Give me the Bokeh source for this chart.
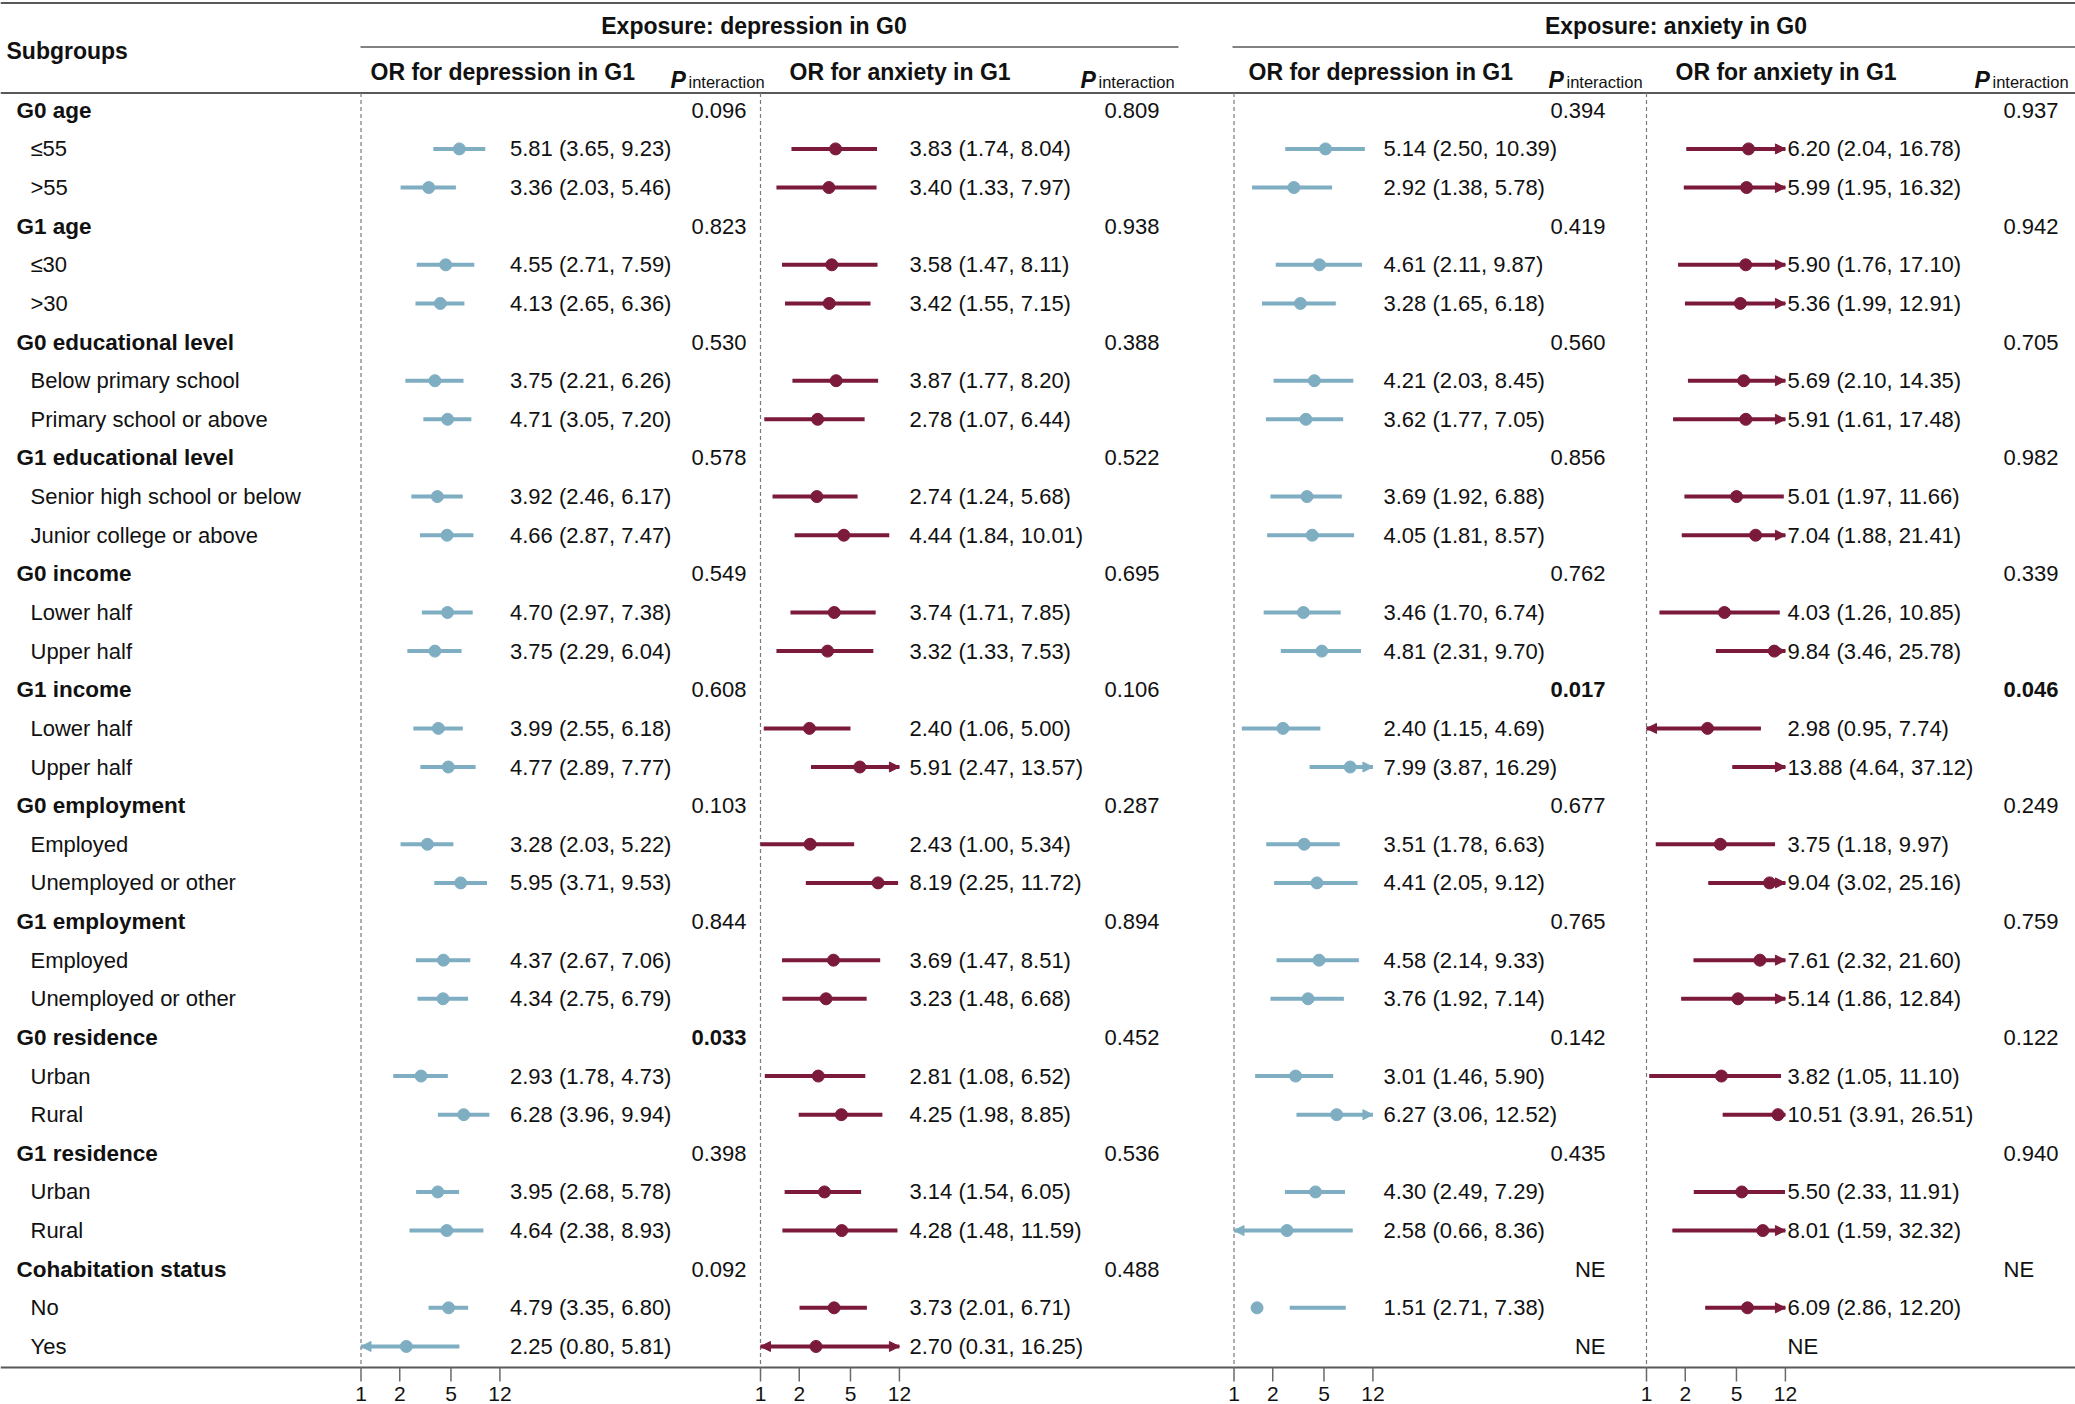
import math
from bokeh.plotting import figure
from bokeh.models import Range1d, LogScale, ColumnDataSource, Arrow, NormalHead
from bokeh.embed import file_html
from bokeh.resources import INLINE
from bokeh.core.properties import value

# ---------------------------------------------------------------- data
group_names = ["G0 age", "G1 age", "G0 educational level", "G1 educational level",
               "G0 income", "G1 income", "G0 employment", "G1 employment",
               "G0 residence", "G1 residence", "Cohabitation status"]
subgroup_names = ["≤55", ">55", "≤30", ">30",
                  "Below primary school", "Primary school or above",
                  "Senior high school or below", "Junior college or above",
                  "Lower half", "Upper half", "Lower half", "Upper half",
                  "Employed", "Unemployed or other", "Employed", "Unemployed or other",
                  "Urban", "Rural", "Urban", "Rural", "No", "Yes"]

# exposure: depression in G0 -> depression in G1
dd_or = [5.81, 3.36, 4.55, 4.13, 3.75, 4.71, 3.92, 4.66, 4.70, 3.75, 3.99,
         4.77, 3.28, 5.95, 4.37, 4.34, 2.93, 6.28, 3.95, 4.64, 4.79, 2.25]
dd_lo = [3.65, 2.03, 2.71, 2.65, 2.21, 3.05, 2.46, 2.87, 2.97, 2.29, 2.55,
         2.89, 2.03, 3.71, 2.67, 2.75, 1.78, 3.96, 2.68, 2.38, 3.35, 0.80]
dd_hi = [9.23, 5.46, 7.59, 6.36, 6.26, 7.20, 6.17, 7.47, 7.38, 6.04, 6.18,
         7.77, 5.22, 9.53, 7.06, 6.79, 4.73, 9.94, 5.78, 8.93, 6.80, 5.81]
dd_p = ["0.096", "0.823", "0.530", "0.578", "0.549", "0.608",
        "0.103", "0.844", "0.033", "0.398", "0.092"]

# exposure: depression in G0 -> anxiety in G1
da_or = [3.83, 3.40, 3.58, 3.42, 3.87, 2.78, 2.74, 4.44, 3.74, 3.32, 2.40,
         5.91, 2.43, 8.19, 3.69, 3.23, 2.81, 4.25, 3.14, 4.28, 3.73, 2.70]
da_lo = [1.74, 1.33, 1.47, 1.55, 1.77, 1.07, 1.24, 1.84, 1.71, 1.33, 1.06,
         2.47, 1.00, 2.25, 1.47, 1.48, 1.08, 1.98, 1.54, 1.48, 2.01, 0.31]
da_hi = [8.04, 7.97, 8.11, 7.15, 8.20, 6.44, 5.68, 10.01, 7.85, 7.53, 5.00,
         13.57, 5.34, 11.72, 8.51, 6.68, 6.52, 8.85, 6.05, 11.59, 6.71, 16.25]
da_p = ["0.809", "0.938", "0.388", "0.522", "0.695", "0.106",
        "0.287", "0.894", "0.452", "0.536", "0.488"]

# exposure: anxiety in G0 -> depression in G1 (None = not estimable)
ad_or = [5.14, 2.92, 4.61, 3.28, 4.21, 3.62, 3.69, 4.05, 3.46, 4.81, 2.40,
         7.99, 3.51, 4.41, 4.58, 3.76, 3.01, 6.27, 4.30, 2.58, 1.51, None]
ad_lo = [2.50, 1.38, 2.11, 1.65, 2.03, 1.77, 1.92, 1.81, 1.70, 2.31, 1.15,
         3.87, 1.78, 2.05, 2.14, 1.92, 1.46, 3.06, 2.49, 0.66, 2.71, None]
ad_hi = [10.39, 5.78, 9.87, 6.18, 8.45, 7.05, 6.88, 8.57, 6.74, 9.70, 4.69,
         16.29, 6.63, 9.12, 9.33, 7.14, 5.90, 12.52, 7.29, 8.36, 7.38, None]
ad_p = ["0.394", "0.419", "0.560", "0.856", "0.762", "0.017",
        "0.677", "0.765", "0.142", "0.435", "NE"]

# exposure: anxiety in G0 -> anxiety in G1
aa_or = [6.20, 5.99, 5.90, 5.36, 5.69, 5.91, 5.01, 7.04, 4.03, 9.84, 2.98,
         13.88, 3.75, 9.04, 7.61, 5.14, 3.82, 10.51, 5.50, 8.01, 6.09, None]
aa_lo = [2.04, 1.95, 1.76, 1.99, 2.10, 1.61, 1.97, 1.88, 1.26, 3.46, 0.95,
         4.64, 1.18, 3.02, 2.32, 1.86, 1.05, 3.91, 2.33, 1.59, 2.86, None]
aa_hi = [16.78, 16.32, 17.10, 12.91, 14.35, 17.48, 11.66, 21.41, 10.85, 25.78, 7.74,
         37.12, 9.97, 25.16, 21.60, 12.84, 11.10, 26.51, 11.91, 32.32, 12.20, None]
aa_p = ["0.937", "0.942", "0.705", "0.982", "0.339", "0.046",
        "0.249", "0.759", "0.122", "0.940", "NE"]

axis_ticks = [1, 2, 5, 12]
clip_lo, clip_hi = 1, 12

exposure_titles = ["Exposure: depression in G0", "Exposure: anxiety in G0"]

# ---------------------------------------------------------------- layout
W, H = 2075, 1404
ROW0, STEP = 109.8, 38.63      # pixel centre of first row, row pitch
K = 55.9                       # pixels per natural-log unit on each OR axis
FONT = "Liberation Sans"
BLUE, RED = "#7FAEC2", "#7B1A3A"
INK = "#111111"
RULE = "#595959"

Y_HEAD_LINE, Y_AXIS = 92.5, 1367.0

panels = [
    dict(name="f1", origin=360.5, or_x=509.5, p_x=746, color=BLUE,
         title="OR for depression in G1", title_x=370, P_x=670,
         orv=dd_or, lo=dd_lo, hi=dd_hi, pv=dd_p, ne_col="p", ne_head=("right", 746)),
    dict(name="f2", origin=760.0, or_x=909, p_x=1159, color=RED,
         title="OR for anxiety in G1", title_x=789, P_x=1080,
         orv=da_or, lo=da_lo, hi=da_hi, pv=da_p, ne_col="p", ne_head=("right", 1159)),
    dict(name="f3", origin=1233.5, or_x=1383, p_x=1605, color=BLUE,
         title="OR for depression in G1", title_x=1248, P_x=1548,
         orv=ad_or, lo=ad_lo, hi=ad_hi, pv=ad_p, ne_col="p", ne_head=("right", 1605)),
    dict(name="f4", origin=1646.0, or_x=1787, p_x=2058, color=RED,
         title="OR for anxiety in G1", title_x=1675, P_x=1974,
         orv=aa_or, lo=aa_lo, hi=aa_hi, pv=aa_p, ne_col="or", ne_head=("left", 2003)),
]

p = figure(width=W, height=H, title=None,
           x_range=Range1d(0, W),
           y_range=Range1d((H - ROW0) / STEP, -ROW0 / STEP),
           x_axis_type=None, y_axis_type=None,
           output_backend="svg", toolbar_location=None, min_border=0)
p.outline_line_color = None
p.background_fill_color = "white"
p.border_fill_color = "white"

p.extra_y_ranges = {"px": Range1d(H, 0)}
p.extra_x_ranges = {pn["name"]: Range1d(math.exp(-pn["origin"] / K),
                                        math.exp((W - pn["origin"]) / K)) for pn in panels}
p.extra_x_scales = {pn["name"]: LogScale() for pn in panels}


def txt(x, y, s, size="22px", style="normal", align="left", baseline="middle",
        xr="default", yr="default", color=INK):
    p.text(x=x, y=y, text=s, text_font=value(FONT), text_font_size=value(size),
           text_font_style=style, text_align=align, text_baseline=baseline,
           text_color=color, x_range_name=xr, y_range_name=yr)


group_rows = [3 * g for g in range(len(group_names))]
sub_rows = [3 * g + k for g in range(len(group_names)) for k in (1, 2)]

# ---------------------------------------------------------------- rules
p.segment(x0=[0, 0, 0], x1=[W, W, W], y0=[2.5, Y_HEAD_LINE, Y_AXIS], y1=[2.5, Y_HEAD_LINE, Y_AXIS],
          line_color=RULE, line_width=2, y_range_name="px")
p.segment(x0=[360, 1232], x1=[1178, W], y0=[46.5, 46.5], y1=[46.5, 46.5],
          line_color=RULE, line_width=1.5, y_range_name="px")

# ---------------------------------------------------------------- headers
txt([6], [50], ["Subgroups"], size="23px", style="bold", yr="px")
txt([753.5, 1675.5], [25, 25], exposure_titles, size="23px", style="bold",
    align="center", yr="px")
for pn in panels:
    txt([pn["title_x"]], [71], [pn["title"]], size="23px", style="bold", yr="px")
    txt([pn["P_x"]], [79], ["P"], size="23px", style="bold italic",
        baseline="alphabetic", yr="px")
    txt([pn["P_x"] + 18], [81], ["interaction"], size="16.5px",
        baseline="alphabetic", yr="px")

# ---------------------------------------------------------------- left column
txt([16] * len(group_rows), group_rows, group_names, size="22.5px", style="bold")
txt([30] * len(sub_rows), sub_rows, subgroup_names)

# ---------------------------------------------------------------- forest panels
for pn in panels:
    nm, col = pn["name"], pn["color"]

    # reference line at OR = 1
    p.segment(x0=[1], x1=[1], y0=[Y_HEAD_LINE], y1=[Y_AXIS], x_range_name=nm, y_range_name="px",
              line_color="#7a7a7a", line_width=1.2, line_dash="4 3")

    # axis ticks and labels
    p.segment(x0=axis_ticks, x1=axis_ticks, y0=[Y_AXIS] * len(axis_ticks),
              y1=[Y_AXIS + 14] * len(axis_ticks), x_range_name=nm, y_range_name="px",
              line_color="#6a6a6a", line_width=1.5)
    txt(axis_ticks, [1393] * len(axis_ticks), [str(t) for t in axis_ticks], size="21px",
        align="center", xr=nm, yr="px")

    est = [(r, o, l, h) for r, o, l, h in zip(sub_rows, pn["orv"], pn["lo"], pn["hi"]) if o is not None]
    seg = ColumnDataSource(dict(
        y=[e[0] for e in est],
        x0=[max(e[2], clip_lo) for e in est],
        x1=[min(e[3], clip_hi) for e in est]))
    p.segment(x0="x0", x1="x1", y0="y", y1="y", source=seg, x_range_name=nm,
              line_color=col, line_width=4)

    pts = [e for e in est if clip_lo <= e[1] <= clip_hi]
    p.scatter(x=[e[1] for e in pts], y=[e[0] for e in pts], x_range_name=nm,
              marker="circle", size=12, fill_color=col, line_color=col)

    right = [e for e in est if e[3] > clip_hi]
    left = [e for e in est if e[2] < clip_lo]
    for sel, xs, xe in ((right, lambda e: max(e[2], clip_lo), clip_hi),
                        (left, lambda e: min(e[3], clip_hi), clip_lo)):
        if not sel:
            continue
        src = ColumnDataSource(dict(xs=[xs(e) for e in sel], xe=[xe] * len(sel),
                                    y=[e[0] for e in sel]))
        p.add_layout(Arrow(end=NormalHead(size=10, fill_color=col, line_color=col, line_width=1),
                           x_start="xs", y_start="y", x_end="xe", y_end="y", source=src,
                           line_color=col, line_width=1, x_range_name=nm))

    # estimate labels
    txt([pn["or_x"]] * len(est), [e[0] for e in est],
        [f"{o:.2f} ({l:.2f}, {h:.2f})" for _, o, l, h in est])

    # not-estimable subgroup rows
    ne_rows = [r for r, o in zip(sub_rows, pn["orv"]) if o is None]
    if ne_rows:
        if pn["ne_col"] == "or":
            txt([pn["or_x"]] * len(ne_rows), ne_rows, ["NE"] * len(ne_rows))
        else:
            txt([pn["p_x"]] * len(ne_rows), ne_rows, ["NE"] * len(ne_rows), align="right")

    # interaction p-values
    for r, pv in zip(group_rows, pn["pv"]):
        if pv == "NE":
            al, xx = pn["ne_head"]
            txt([xx], [r], [pv], align=al)
        else:
            txt([pn["p_x"]], [r], [pv], align="right",
                style="bold" if float(pv) < 0.05 else "normal")

open("out.html", "w").write(file_html(p, INLINE))
